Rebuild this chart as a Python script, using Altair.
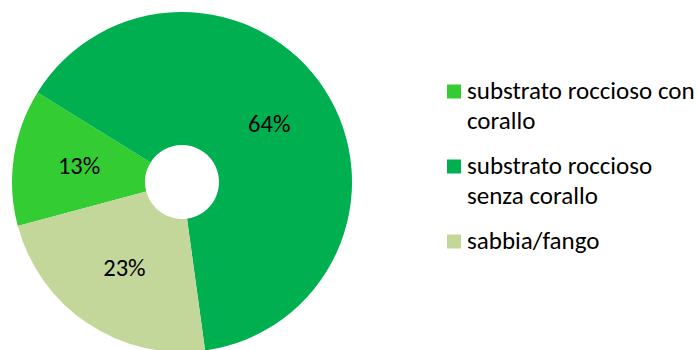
import math
import altair as alt
import pandas as pd

# --- data ---
categories = ["substrato roccioso con corallo", "substrato roccioso senza corallo", "sabbia/fango"]
values = [13, 64, 23]
labels = ["13%", "64%", "23%"]
legend_lines = [["substrato roccioso con", "corallo"], ["substrato roccioso", "senza corallo"], ["sabbia/fango"]]
colors = ["#33CC33", "#00B050", "#C4D79B"]

df = pd.DataFrame({
    "cat": categories,
    "value": values,
    "label": labels,
    "order": list(range(len(categories))),
})
leg = pd.DataFrame({
    "cat": categories,
    "lines": legend_lines,
    "order": list(range(len(categories))),
})

FONT = "Calibri, Carlito, Lato, sans-serif"
start = math.radians(255)
theta_scale = alt.Scale(range=[start, start + 2 * math.pi])
color_scale = alt.Scale(domain=categories, range=colors)

cx, cy = 182, 182

arcs = alt.Chart(df).mark_arc(outerRadius=170, innerRadius=37).encode(
    theta=alt.Theta("value:Q", stack=True, scale=theta_scale),
    color=alt.Color("cat:N", scale=color_scale, legend=None),
    order=alt.Order("order:Q"),
    x=alt.value(cx),
    y=alt.value(cy),
)

texts = alt.Chart(df).mark_text(radius=104, font=FONT, fontSize=24.5, color="#000000").encode(
    theta=alt.Theta("value:Q", stack=True, scale=theta_scale),
    text="label:N",
    order=alt.Order("order:Q"),
    x=alt.value(cx),
    y=alt.value(cy),
)

ypos = alt.Y("order:O", scale=alt.Scale(type="point", range=[91.5, 241.5], padding=0), axis=None)

leg_sq = alt.Chart(leg).mark_square(size=196, opacity=1).encode(
    x=alt.value(454),
    y=ypos,
    color=alt.Color("cat:N", scale=color_scale, legend=None),
)

leg_txt = alt.Chart(leg).mark_text(
    align="left", baseline="alphabetic", dy=7.5, lineHeight=30,
    font=FONT, fontSize=25, color="#000000",
).encode(
    x=alt.value(467),
    y=ypos,
    text="lines",
)

chart = alt.layer(arcs, texts, leg_sq, leg_txt).properties(
    width=697, height=350,
    autosize=alt.AutoSizeParams(type="none"),
    padding=0,
).configure_view(stroke=None)

chart.save("out.html", embed_options={"renderer": "svg", "actions": False})
